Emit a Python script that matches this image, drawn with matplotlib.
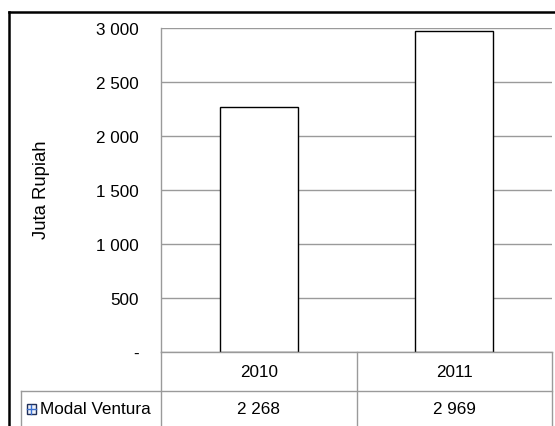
import matplotlib
matplotlib.use("Agg")
import matplotlib.pyplot as plt
from matplotlib.patches import Rectangle
from matplotlib.lines import Line2D

# ---- data ----
categories = ["2010", "2011"]
series_name = "Modal Ventura"
values = [2268, 2969]
value_labels = ["2 268", "2 969"]
yticks = [0, 500, 1000, 1500, 2000, 2500, 3000]
ytick_labels = ["-", "500", "1 000", "1 500", "2 000", "2 500", "3 000"]
ylabel = "Juta Rupiah"

plt.rcParams['font.family'] = ['Liberation Sans', 'DejaVu Sans']
FS = 12.3
GRID = "#9a9a9a"

W, H = 555, 427
fig = plt.figure(figsize=(W / 100, H / 100), dpi=100)

def fx(x):
    return x / W

def fy(y):
    return 1 - y / H

left, right, top, bottom = 161, 552, 29, 353
ax = fig.add_axes([fx(left), fy(bottom), fx(right) - fx(left), fy(top) - fy(bottom)])

xs = list(range(len(categories)))
ax.bar(xs, values, width=0.4, facecolor="white", edgecolor="black", linewidth=1.0, zorder=3)
ax.set_xlim(-0.5, len(categories) - 0.5)
ax.set_ylim(0, 3000)
ax.set_yticks(yticks)
ax.set_yticklabels(ytick_labels, fontsize=FS)
ax.tick_params(axis='y', length=0, pad=16)
ax.set_xticks([])
ax.yaxis.grid(True, color=GRID, linewidth=1.0, zorder=0)
for s in ["top", "right", "bottom"]:
    ax.spines[s].set_visible(False)
ax.spines["left"].set_color(GRID)
ax.spines["left"].set_linewidth(1.0)

fig.text(fx(42), fy(190), ylabel, rotation=90, ha="center", va="center", fontsize=13.3)

# outer frame (extends beyond right/bottom edge)
fig.add_artist(Line2D([fx(8.5), fx(560)], [fy(12.5), fy(12.5)], color="black", lw=1.8))
fig.add_artist(Line2D([fx(8.5), fx(8.5)], [fy(12.5), fy(440)], color="black", lw=1.8))

# data table below axis
row1_top, row1_bot = bottom, 392
row2_bot = 440
cell_w = (right - left) / len(categories)
def hline(x0, x1, y):
    fig.add_artist(Line2D([fx(x0), fx(x1)], [fy(y), fy(y)], color=GRID, lw=1.0))
def vline(x, y0, y1):
    fig.add_artist(Line2D([fx(x), fx(x)], [fy(y0), fy(y1)], color=GRID, lw=1.0))

hline(left, right, row1_top)
hline(21, right, row1_bot)
vline(21, row1_bot, row2_bot)
for i in range(len(categories) + 1):
    vline(left + i * cell_w, row1_top, row2_bot)

for i, (c, v) in enumerate(zip(categories, value_labels)):
    cx = left + (i + 0.5) * cell_w
    fig.text(fx(cx), fy((row1_top + row1_bot) / 2), c, ha="center", va="center", fontsize=FS)
    fig.text(fx(cx), fy(410), v, ha="center", va="center", fontsize=FS)

# legend key
fig.add_artist(Rectangle((fx(26.5), fy(415)), fx(9), fy(405) - fy(415), facecolor="#eef2fa",
                         edgecolor="#1f2f5a", lw=1.0))
fig.add_artist(Line2D([fx(31), fx(31)], [fy(405.5), fy(414.5)], color="#3a6fd0", lw=1.0))
fig.add_artist(Line2D([fx(27), fx(35.5)], [fy(410), fy(410)], color="#3a6fd0", lw=1.0))
fig.text(fx(40), fy(410), series_name, ha="left", va="center", fontsize=FS)

fig.savefig("out.png", dpi=100)
